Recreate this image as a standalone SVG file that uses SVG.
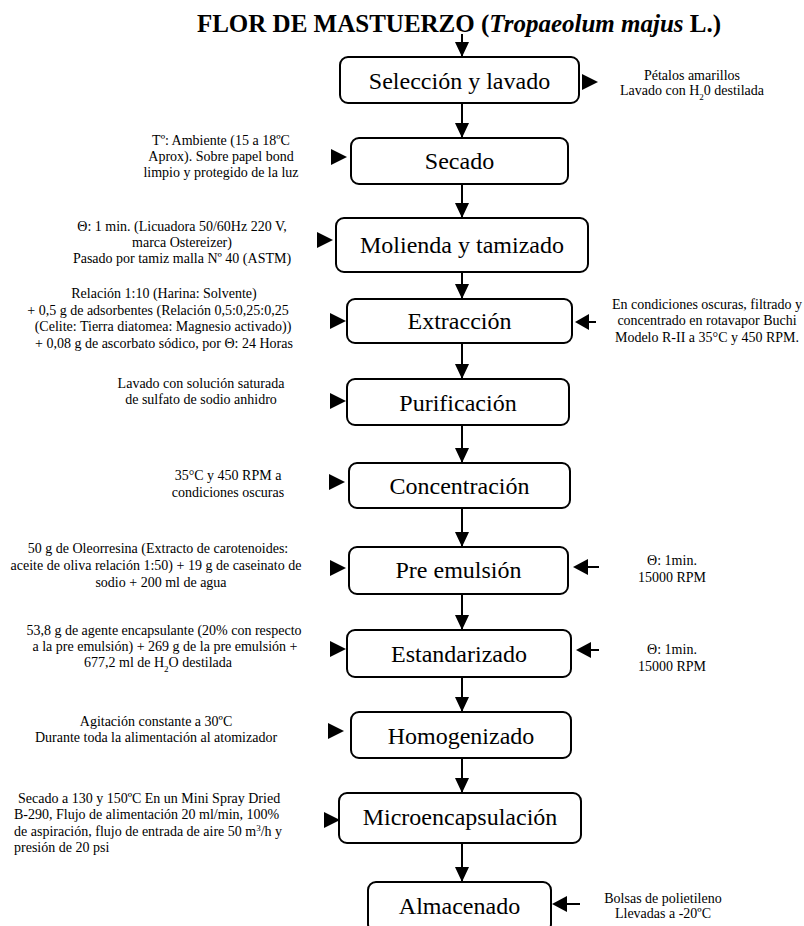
<svg xmlns="http://www.w3.org/2000/svg" width="804" height="926" viewBox="0 0 804 926">
<defs>
<style>
.box{fill:#fff;stroke:#000;stroke-width:2}
.lbl{font-family:"Liberation Serif","Times New Roman",serif;font-size:24px;fill:#000;text-anchor:middle}
.note{font-family:"Liberation Serif","Times New Roman",serif;font-size:14px;fill:#000;text-anchor:middle}
.noteL{font-family:"Liberation Serif","Times New Roman",serif;font-size:14px;fill:#000}
.title{font-family:"Liberation Serif","Times New Roman",serif;font-size:25px;font-weight:bold;fill:#000;text-anchor:middle}
.ln{stroke:#000;stroke-width:2;fill:none}
.tri{fill:#000}
</style>
<marker id="ah" viewBox="0 0 15 14" refX="15" refY="7" markerWidth="15" markerHeight="14" markerUnits="userSpaceOnUse" orient="auto">
<path d="M0,0 L15,7 L0,14 Z" fill="#000"/>
</marker>
</defs>
<rect width="804" height="926" fill="#fff"/>
<text class="title" x="459" y="32">FLOR DE MASTUERZO (<tspan font-style="italic">Tropaeolum majus</tspan> L.)</text>

<g id="connectors">
<line class="ln" x1="462" y1="34" x2="462" y2="57" marker-end="url(#ah)"/>
<line class="ln" x1="462" y1="103" x2="462" y2="138" marker-end="url(#ah)"/>
<line class="ln" x1="462" y1="184" x2="462" y2="218" marker-end="url(#ah)"/>
<line class="ln" x1="462" y1="272" x2="462" y2="299" marker-end="url(#ah)"/>
<line class="ln" x1="462" y1="343" x2="462" y2="379" marker-end="url(#ah)"/>
<line class="ln" x1="462" y1="425" x2="462" y2="463" marker-end="url(#ah)"/>
<line class="ln" x1="462" y1="508" x2="462" y2="547" marker-end="url(#ah)"/>
<line class="ln" x1="462" y1="594" x2="462" y2="630" marker-end="url(#ah)"/>
<line class="ln" x1="462" y1="677" x2="462" y2="712" marker-end="url(#ah)"/>
<line class="ln" x1="462" y1="758" x2="462" y2="793" marker-end="url(#ah)"/>
<line class="ln" x1="462" y1="843" x2="462" y2="882" marker-end="url(#ah)"/>
<!-- side arrows -->
<path class="tri" d="M582,74 L598,82 L582,90 Z"/>
<path class="tri" d="M331,149 L347,157 L331,165 Z"/>
<path class="tri" d="M317,232 L333,240 L317,248 Z"/>
<path class="tri" d="M330,313 L346,321 L330,329 Z"/>
<path class="tri" d="M589,314 L575,322 L589,330 Z"/>
<line class="ln" x1="588" y1="322" x2="596" y2="322"/>
<path class="tri" d="M330,393 L346,401 L330,409 Z"/>
<path class="tri" d="M329,474 L345,482 L329,490 Z"/>
<path class="tri" d="M330,560 L346,568 L330,576 Z"/>
<path class="tri" d="M588,559 L573,567 L588,575 Z"/>
<line class="ln" x1="587" y1="567" x2="599" y2="567"/>
<path class="tri" d="M330,641 L346,649 L330,657 Z"/>
<path class="tri" d="M591,642 L576,650 L591,658 Z"/>
<line class="ln" x1="590" y1="650" x2="599" y2="650"/>
<path class="tri" d="M328,723 L344,731 L328,739 Z"/>
<path class="tri" d="M324,812 L340,820 L324,828 Z"/>
<path class="tri" d="M567,896 L552,904 L567,912 Z"/>
<line class="ln" x1="566" y1="904" x2="580" y2="904"/>
</g>

<g id="n1"><rect class="box" x="340" y="57" width="239" height="46" rx="8"/><text class="lbl" x="459.5" y="89">Selección y lavado</text></g>
<g id="n1-note"><text class="note" x="692" y="80" font-size="13">Pétalos amarillos</text><text class="note" x="692" y="95" font-size="13">Lavado con H<tspan font-size="9" baseline-shift="sub">2</tspan>0 destilada</text></g>

<g id="n2"><rect class="box" x="351" y="138" width="217" height="46" rx="8"/><text class="lbl" x="459.5" y="169">Secado</text></g>
<g id="n2-note"><text class="note" x="221" y="145">Tº: Ambiente (15 a 18ºC</text><text class="note" x="221" y="161">Aprox). Sobre papel bond</text><text class="note" x="221" y="177">limpio y protegido de la luz</text></g>

<g id="n3"><rect class="box" x="336" y="218" width="252" height="54" rx="8"/><text class="lbl" x="462" y="253">Molienda y tamizado</text></g>
<g id="n3-note"><text class="note" x="182" y="231">Θ: 1 min. (Licuadora 50/60Hz 220 V,</text><text class="note" x="182" y="247">marca Ostereizer)</text><text class="note" x="182" y="263">Pasado por tamiz malla Nº 40 (ASTM)</text></g>

<g id="n4"><rect class="box" x="347" y="299" width="225" height="44" rx="8"/><text class="lbl" x="459.5" y="329">Extracción</text></g>
<g id="n4-note"><text class="note" x="164" y="298">Relación 1:10 (Harina: Solvente)</text><text class="note" x="158" y="315">+ 0,5 g  de adsorbentes (Relación 0,5:0,25:0,25</text><text class="note" x="163" y="331">(Celite: Tierra  diatomea: Magnesio activado))</text><text class="note" x="164" y="348">+ 0,08 g de ascorbato sódico, por Θ: 24 Horas</text></g>
<g id="n4-note2"><text class="note" x="707" y="309">En condiciones oscuras, filtrado y</text><text class="note" x="707" y="325">concentrado en rotavapor Buchi</text><text class="note" x="707" y="342">Modelo R-II a 35°C y 450  RPM.</text></g>

<g id="n5"><rect class="box" x="347" y="379" width="222" height="46" rx="8"/><text class="lbl" x="458" y="411">Purificación</text></g>
<g id="n5-note"><text class="note" x="201" y="388">Lavado con solución  saturada</text><text class="note" x="201" y="404">de  sulfato de sodio anhidro</text></g>

<g id="n6"><rect class="box" x="349" y="463" width="221" height="45" rx="8"/><text class="lbl" x="459.5" y="494">Concentración</text></g>
<g id="n6-note"><text class="note" x="228" y="480">35°C y 450  RPM a</text><text class="note" x="228" y="497">condiciones oscuras</text></g>

<g id="n7"><rect class="box" x="349" y="547" width="219" height="47" rx="8"/><text class="lbl" x="458.5" y="578">Pre emulsión</text></g>
<g id="n7-note"><text class="note" x="158" y="553">50 g de Oleorresina (Extracto de carotenoides:</text><text class="note" x="156" y="570">aceite de oliva relación 1:50) + 19 g de caseinato de</text><text class="note" x="161" y="587">sodio + 200 ml de agua</text></g>
<g id="n7-note2"><text class="note" x="672" y="565">Θ: 1min.</text><text class="note" x="672" y="582">15000 RPM</text></g>

<g id="n8"><rect class="box" x="347" y="630" width="224" height="47" rx="8"/><text class="lbl" x="459" y="662">Estandarizado</text></g>
<g id="n8-note"><text class="note" x="164" y="635">53,8 g de agente encapsulante (20% con respecto</text><text class="note" x="165" y="651">a la pre emulsión) + 269 g de la pre emulsión +</text><text class="note" x="158" y="667">677,2 ml de H<tspan font-size="9" baseline-shift="sub">2</tspan>O destilada</text></g>
<g id="n8-note2"><text class="note" x="672" y="654">Θ: 1min.</text><text class="note" x="672" y="671">15000 RPM</text></g>

<g id="n9"><rect class="box" x="351" y="712" width="220" height="46" rx="8"/><text class="lbl" x="461" y="744">Homogenizado</text></g>
<g id="n9-note"><text class="note" x="156" y="726">Agitación constante a 30ºC</text><text class="note" x="156" y="742">Durante toda la alimentación al atomizador</text></g>

<g id="n10"><rect class="box" x="339" y="793" width="242" height="50" rx="8"/><text class="lbl" x="460" y="825">Microencapsulación</text></g>
<g id="n10-note"><text class="noteL" x="18" y="803"> Secado a 130 y 150ºC En un Mini Spray Dried</text><text class="noteL" x="14" y="819">B-290, Flujo de alimentación 20 ml/min, 100%</text><text class="noteL" x="14" y="836">de aspiración, flujo de entrada de aire 50 m<tspan font-size="9" baseline-shift="super">3</tspan>/h y</text><text class="noteL" x="14" y="852">presión de 20 psi</text></g>

<g id="n11"><rect class="box" x="368" y="882" width="183" height="50" rx="8"/><text class="lbl" x="459.5" y="914">Almacenado</text></g>
<g id="n11-note"><text class="note" x="663" y="903">Bolsas de polietileno</text><text class="note" x="663" y="918">Llevadas a -20ºC</text></g>
</svg>
